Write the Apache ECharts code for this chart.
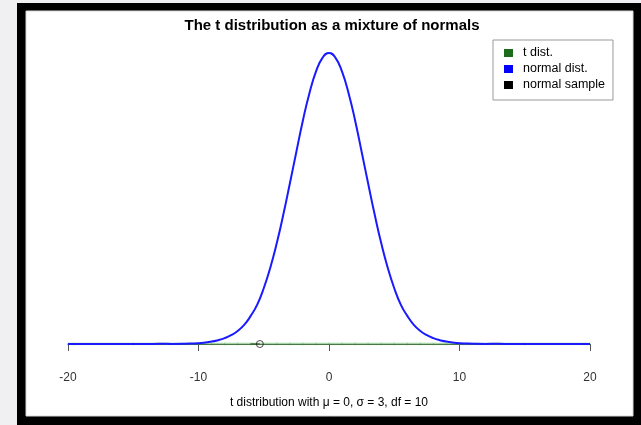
<!DOCTYPE html>
<html>
<head>
<meta charset="utf-8">
<script src="https://cdn.jsdelivr.net/npm/echarts@6/dist/echarts.min.js"></script>
<style>
html,body{margin:0;padding:0;background:#f0f0f3;}
#chart{width:641px;height:425px;}
</style>
</head>
<body>
<div id="chart"></div>
<script>
// x positions where the curves were read
var xs = [-20,-16,-14,-13,-12,-11,-10,-9,-8.5,-8,-7.5,-7,-6.5,-6,-5.5,-5,-4.5,-4,-3.5,-3,-2.5,-2,-1.5,-1,-0.5,0,0.5,1,1.5,2,2.5,3,3.5,4,4.5,5,5.5,6,6.5,7,7.5,8,8.5,9,10,11,12,13,14,16,20];
// normal density (blue)
var normalVals = [0,0,0,0.0001,0.00005,0.00015,0.0004,0.0012,0.0019,0.0029,0.0044,0.0065,0.0095,0.0140,0.0196,0.0278,0.0380,0.0503,0.0645,0.0800,0.0958,0.1114,0.1250,0.1357,0.1426,0.1450,0.1426,0.1357,0.1250,0.1114,0.0958,0.0800,0.0645,0.0503,0.0380,0.0278,0.0196,0.0140,0.0095,0.0065,0.0044,0.0029,0.0019,0.0012,0.0004,0.00015,0.00005,0.0001,0,0,0];
// t distribution trace (green), flat along the base
var tX = [-20,-15,-10,-9,-8,-7,-6,-5,-4,-3,-2,-1,0,1,2,3,4,5,6,7,8,9,10,15,20];
var tVals = [0,0,0,0,0,0,0,0,0,0,0,0,0,0,0,0,0,0,0,0,0,0,0,0,0];
// normal sample: short trace and sampled point
var sampleLineX = [-6.0,-5.3];
var sampleLineY = [0,0];
var sampleX = [-5.3];
var sampleY = [0];
var xTicks = [-20,-10,0,10,20];
var legendNames = ['t dist.','normal dist.','normal sample'];
var legendColors = ['#1a6b1a','#0000ff','#000000'];

var chart = echarts.init(document.getElementById('chart'));
function pairs(a,b){return a.map(function(v,i){return [v,b[i]];});}
var font = 'Liberation Sans, Arial, sans-serif';
chart.setOption({
  backgroundColor:'#f0f0f3',
  animation:false,
  graphic:[
    {type:'rect',z:-10,shape:{x:17,y:3,width:624,height:422},style:{fill:'#000'}},
    {type:'rect',z:-9,shape:{x:26,y:11,width:607,height:405},style:{fill:'#fff',stroke:'#d8d8d8',lineWidth:1}}
  ],
  title:{text:'The t distribution as a mixture of normals',left:327,top:13,textAlign:'center',
    textStyle:{fontFamily:font,fontSize:15,fontWeight:'bold',color:'#000'}},
  legend:{orient:'vertical',left:493,top:40,
    data:legendNames.map(function(n,i){return {name:n,icon:'rect',itemStyle:{color:legendColors[i]}};}),
    itemWidth:9,itemHeight:8,itemGap:2,
    borderColor:'#999',borderWidth:1,borderRadius:0,padding:[6,8,8,11],
    backgroundColor:'#fff',
    textStyle:{fontFamily:font,fontSize:12.5,color:'#000',padding:[0,0,0,5],lineHeight:14}},
  grid:{left:68,right:51,top:53,bottom:81},
  xAxis:{type:'value',min:xTicks[0],max:xTicks[xTicks.length-1],interval:10,offset:11,
    axisLine:{show:true,lineStyle:{color:'#555',width:1}},
    axisTick:{show:true,length:7,lineStyle:{color:'#555'}},
    splitLine:{show:false},
    axisLabel:{margin:17,fontFamily:font,fontSize:12,color:'#333'},
    name:'t distribution with μ = 0, σ = 3, df = 10',nameLocation:'middle',nameGap:42,
    nameTextStyle:{fontFamily:font,fontSize:12,color:'#000'}},
  yAxis:{type:'value',min:0,max:0.145,show:false,splitLine:{show:false}},
  series:[
    {name:'t dist.',type:'line',data:pairs(tX,tVals),symbol:'rect',symbolSize:[1,3],showSymbol:true,
      itemStyle:{color:'rgba(60,150,60,0.3)'},lineStyle:{color:'rgba(60,160,60,0.45)',width:2.5},z:2},
    {name:'normal dist.',type:'line',data:pairs(xs,normalVals),smooth:true,showSymbol:false,
      itemStyle:{color:'#0000ff'},lineStyle:{color:'#1a1aff',width:2},z:3},
    {name:'normal sample',type:'line',data:pairs(sampleLineX,sampleLineY),showSymbol:false,
      itemStyle:{color:'#1a3a1a'},lineStyle:{color:'#1a3a1a',width:1},z:4},
    {name:'normal sample',type:'scatter',data:pairs(sampleX,sampleY),symbol:'circle',symbolSize:7,
      itemStyle:{color:'rgba(255,255,255,0)',borderColor:'#222',borderWidth:1},z:5}
  ]
});
</script>
</body>
</html>
